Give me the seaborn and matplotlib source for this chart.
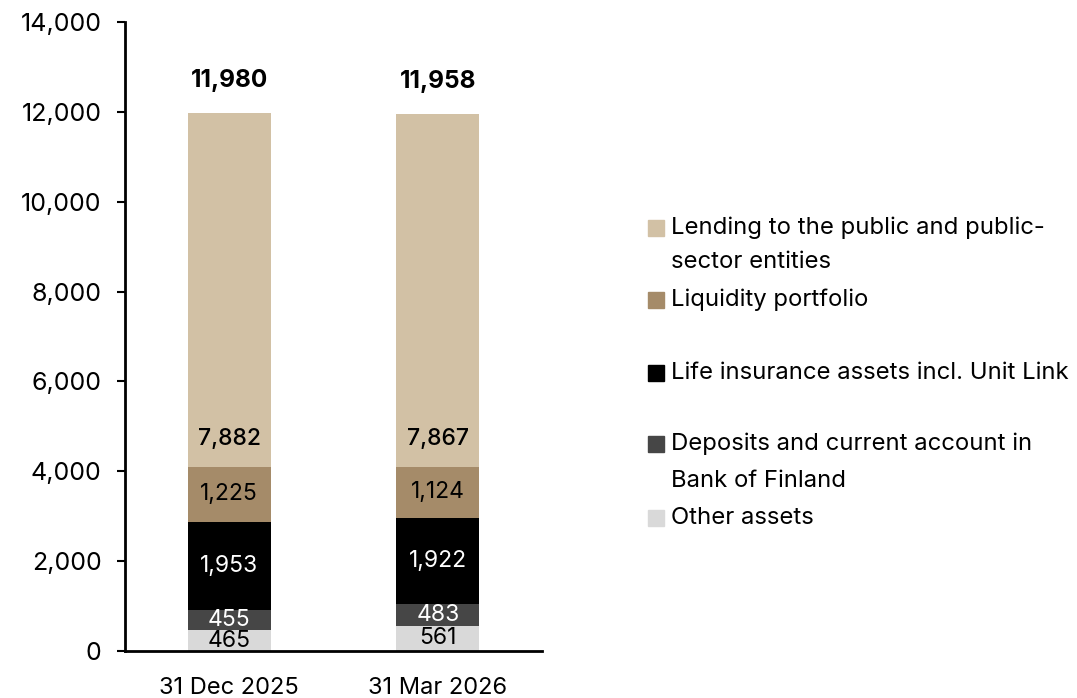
import numpy as np
import pandas as pd
import matplotlib.pyplot as plt
from matplotlib.patches import Rectangle
import seaborn as sns

dates = ["31 Dec 2025", "31 Mar 2026"]
other = [465, 561]
deposits = [455, 483]
life = [1953, 1922]
liquidity = [1225, 1124]
lending = [7882, 7867]
totals = [11980, 11958]

series = ["Other assets", "Deposits and current account in\nBank of Finland",
          "Life insurance assets incl. Unit Link", "Liquidity portfolio",
          "Lending to the public and public-\nsector entities"]
values = [other, deposits, life, liquidity, lending]
colors = ["#d9d9d9", "#464646", "#000000", "#a58b69", "#d2c1a5"]
label_colors = ["black", "white", "white", "black", "black"]

sns.set_style("white")
plt.rcParams["font.family"] = ["Inter", "DejaVu Sans"]
plt.rcParams["text.color"] = "black"
plt.rcParams["xtick.color"] = "black"
plt.rcParams["ytick.color"] = "black"

W, H = 1077, 698
fig = plt.figure(figsize=(W / 100, H / 100), dpi=100)
ax = fig.add_axes([125 / W, 1 - 651 / H, (542 - 125) / W, (651 - 22) / H])

cum = np.cumsum(np.array(values), axis=0)
# draw cumulative bars from the top layer down so each layer sits on the one below
for i in range(len(values) - 1, -1, -1):
    df = pd.DataFrame({"date": dates, "value": cum[i]})
    sns.barplot(data=df, x="date", y="value", color=colors[i], width=0.4,
                saturation=1, linewidth=0, ax=ax, zorder=2)

for j in range(len(dates)):
    for i in range(len(values)):
        bottom = cum[i][j] - values[i][j]
        if i == 4:
            y = bottom + 620
            w = "medium"
        else:
            y = bottom + values[i][j] / 2
            w = "normal"
        ax.text(j, y, f"{values[i][j]:,}", ha="center", va="center",
                color=label_colors[i], fontsize=16.5, fontweight=w, zorder=3)
    ax.text(j, totals[j] + 720, f"{totals[j]:,}", ha="center", va="center",
            fontsize=17.5, fontweight="bold")

ax.set_ylim(0, 14000)
ax.set_xlim(-0.5, 1.5)
ax.set_yticks(range(0, 14001, 2000))
ax.set_yticklabels([f"{v:,}" for v in range(0, 14001, 2000)])
ax.set_xlabel("")
ax.set_ylabel("")
ax.tick_params(axis="y", length=6, width=1.5, labelsize=18, pad=11, left=True)
ax.tick_params(axis="x", length=0, labelsize=17, pad=19)
for s in ["top", "right"]:
    ax.spines[s].set_visible(False)
for s in ["left", "bottom"]:
    ax.spines[s].set_linewidth(2)
    ax.spines[s].set_color("black")

# legend drawn by hand to keep the uneven spacing of the original
legend_rows = [(4, [228, 262]), (3, [300]), (2, [373]), (1, [444, 481]), (0, [518])]
for idx, ys in legend_rows:
    sq = 16
    fig.add_artist(Rectangle((648 / W, 1 - (ys[0] + sq / 2) / H), sq / W, sq / H,
                             transform=fig.transFigure, color=colors[idx]))
    for line, yy in zip(series[idx].split("\n"), ys):
        fig.text(671 / W, 1 - yy / H, line, ha="left", va="center", fontsize=17.2)

fig.savefig("out.png", dpi=100)
